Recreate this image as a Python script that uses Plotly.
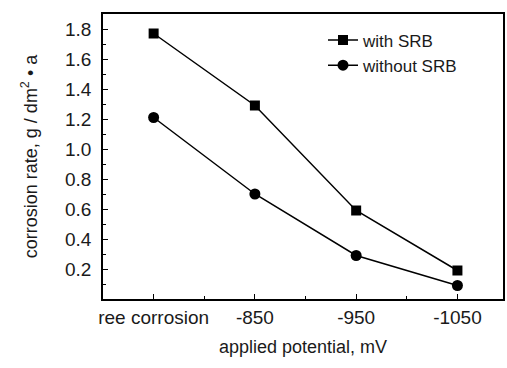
import plotly.graph_objects as go

categories = ["ree corrosion", "-850", "-950", "-1050"]
with_srb = [1.77, 1.29, 0.59, 0.19]
without_srb = [1.21, 0.70, 0.29, 0.09]
y_ticks = [0.2, 0.4, 0.6, 0.8, 1.0, 1.2, 1.4, 1.6, 1.8]

xpos = list(range(len(categories)))
fig = go.Figure()
fig.add_trace(go.Scatter(x=xpos, y=with_srb, mode="lines+markers", name="with SRB",
                         line=dict(color="black", width=1.5),
                         marker=dict(symbol="square", size=10, color="black")))
fig.add_trace(go.Scatter(x=xpos, y=without_srb, mode="lines+markers", name="without SRB",
                         line=dict(color="black", width=1.5),
                         marker=dict(symbol="circle", size=11, color="black")))

font = "Liberation Sans, Arial, sans-serif"
fig.update_layout(
    width=507, height=368,
    margin=dict(l=103, r=2, t=14, b=69),
    paper_bgcolor="white", plot_bgcolor="white",
    font=dict(family=font, color="#1a1a1a", size=17),
    showlegend=True,
    legend=dict(x=0.55, y=0.97, xanchor="left", yanchor="top",
                bgcolor="rgba(0,0,0,0)", font=dict(size=17), tracegroupgap=0),
    xaxis=dict(range=[-0.5, 3.45], tickmode="array", tickvals=xpos, ticktext=categories,
               ticks="inside", ticklen=5, tickcolor="black", showline=True, linecolor="black",
               linewidth=1.5, mirror=True, showgrid=False, zeroline=False,
               tickfont=dict(size=19),
               minor=dict(ticks="inside", ticklen=3, dtick=0.5, tick0=-0.5, tickcolor="black"),
               title=dict(text="applied potential, mV", font=dict(size=18), standoff=14)),
    yaxis=dict(range=[0, 1.9], tickmode="array", tickvals=y_ticks,
               ticktext=[f"{v:.1f}" for v in y_ticks],
               ticks="inside", ticklen=5, tickcolor="black", showline=True, linecolor="black",
               linewidth=1.5, mirror=True, showgrid=False, zeroline=False,
               tickfont=dict(size=19), ticklabelstandoff=6,
               minor=dict(ticks="inside", ticklen=3, dtick=0.1, tick0=0, tickcolor="black"),
               title=dict(text="corrosion rate, g / dm<sup>2</sup> • a", font=dict(size=18), standoff=23)),
)
fig.write_html("out.html")
